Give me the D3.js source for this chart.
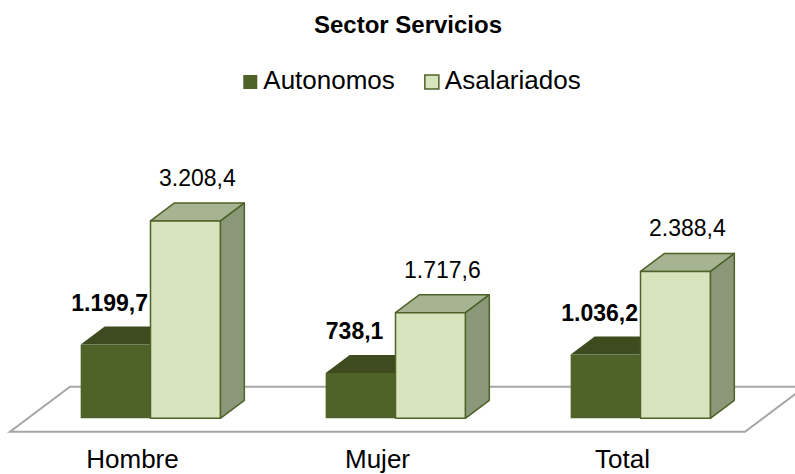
<!DOCTYPE html>
<html lang="es">
<head>
<meta charset="UTF-8">
<title>Sector Servicios</title>
<script src="https://d3js.org/d3.v7.min.js"></script>
<style>
  body { margin: 0; background: #fff; }
  text { font-family: "Liberation Sans", Arial, sans-serif; fill: #000; }
</style>
</head>
<body>
<div id="chart"></div>
<script>

  const categories = ["Hombre", "Mujer", "Total"];
  const seriesNames = ["Autonomos", "Asalariados"];
  const autonomos = [1199.7, 738.1, 1036.2];
  const asalariados = [3208.4, 1717.6, 2388.4];
  const yDomain = [0, 3500];

  const width = 795, height = 474;

  // colours for each series: front, top, side, outline
  const palette = {
    Autonomos: { front: "#4F6228", top: "#3D4B1F", side: "#3F4F20", stroke: "none" },
    Asalariados: { front: "#D7E4BD", top: "#A7B493", side: "#8A9778", stroke: "#4F6228" }
  };

  // oblique depth vector for one unit of bar depth
  const depth = { dx: 24, dy: -18 };
  const floorZ = [-0.75, 1.75];

  const esLocale = d3.formatLocale({ decimal: ",", thousands: ".", grouping: [3], currency: ["", " €"] });
  const fmt = esLocale.format(",.1f");

  const svg = d3.select("#chart").append("svg")
    .attr("width", width)
    .attr("height", height);

  const x0 = d3.scaleBand()
    .domain(categories)
    .range([28, 763])
    .paddingInner(0.43)
    .paddingOuter(0.215);

  const x1 = d3.scaleBand()
    .domain(seriesNames)
    .range([0, x0.bandwidth()]);

  const y = d3.scaleLinear()
    .domain(yDomain)
    .range([418.3, 203]);

  const proj = (px, py, z) => [px + z * depth.dx, py + z * depth.dy];
  const pts = arr => arr.map(p => p.join(",")).join(" ");

  // title
  svg.append("text")
    .attr("x", 408)
    .attr("y", 33)
    .attr("text-anchor", "middle")
    .style("font-size", "24px")
    .style("font-weight", "bold")
    .text("Sector Servicios");

  // legend
  const legend = svg.append("g");
  let lx = 0;
  seriesNames.forEach((s, i) => {
    const g = legend.append("g").attr("transform", `translate(${lx},0)`);
    g.append("rect")
      .attr("x", 0).attr("y", -14)
      .attr("width", 14).attr("height", 14)
      .attr("fill", palette[s].front)
      .attr("stroke", s === "Asalariados" ? "#4F6228" : "none")
      .attr("stroke-width", 1.5);
    const t = g.append("text")
      .attr("x", 20).attr("y", 0)
      .style("font-size", "26px")
      .text(s);
    lx += 20 + t.node().getComputedTextLength() + 30;
  });
  const legendW = lx - 30;
  legend.attr("transform", `translate(${412 - legendW / 2},89)`);

  // floor
  const y0 = y(0);
  const floorL = x0.range()[0], floorR = x0.range()[1];
  svg.append("polygon")
    .attr("points", pts([
      proj(floorL, y0, floorZ[0]),
      proj(floorR, y0, floorZ[0]),
      proj(floorR, y0, floorZ[1]),
      proj(floorL, y0, floorZ[1])
    ]))
    .attr("fill", "#fff")
    .attr("stroke", "#A6A6A6")
    .attr("stroke-width", 2);

  // bars
  const rows = categories.map((c, i) => ({
    cat: c,
    values: [
      { key: "Autonomos", value: autonomos[i] },
      { key: "Asalariados", value: asalariados[i] }
    ]
  }));

  const groups = svg.selectAll(".grp")
    .data(rows)
    .enter()
    .append("g")
    .attr("class", "grp");

  const bars = groups.selectAll(".bar")
    .data(d => d.values.map(v => Object.assign({ cat: d.cat }, v)))
    .enter()
    .append("g")
    .attr("class", "bar");

  const faces = d => {
    const xl = x0(d.cat) + x1(d.key), xr = xl + x1.bandwidth();
    const yt = y(d.value), yb = y(0);
    return {
      front: [[xl, yt], [xr, yt], [xr, yb], [xl, yb]],
      top: [[xl, yt], [xr, yt], proj(xr, yt, 1), proj(xl, yt, 1)],
      side: [[xr, yt], proj(xr, yt, 1), proj(xr, yb, 1), [xr, yb]]
    };
  };

  ["side", "top", "front"].forEach(f => {
    bars.append("polygon")
      .attr("points", d => pts(faces(d)[f]))
      .attr("fill", d => palette[d.key][f])
      .attr("stroke", d => palette[d.key].stroke)
      .attr("stroke-width", 1.5)
      .attr("stroke-linejoin", "round");
  });

  // value labels
  bars.append("text")
    .attr("x", d => {
      const cx = x0(d.cat) + x1(d.key) + x1.bandwidth() / 2;
      return d.key === "Autonomos" ? cx - 6 : cx + 12;
    })
    .attr("y", d => y(d.value) + depth.dy - (d.key === "Autonomos" ? 16 : 17))
    .attr("text-anchor", "middle")
    .style("font-size", "23px")
    .style("font-weight", d => d.key === "Autonomos" ? "bold" : "normal")
    .text(d => fmt(d.value));

  // category labels at the front edge of the floor
  svg.selectAll(".cat")
    .data(categories)
    .enter()
    .append("text")
    .attr("class", "cat")
    .attr("x", d => x0(d) + x0.bandwidth() / 2 + floorZ[0] * depth.dx)
    .attr("y", 468)
    .attr("text-anchor", "middle")
    .style("font-size", "26px")
    .text(d => d);

</script>
</body>
</html>
